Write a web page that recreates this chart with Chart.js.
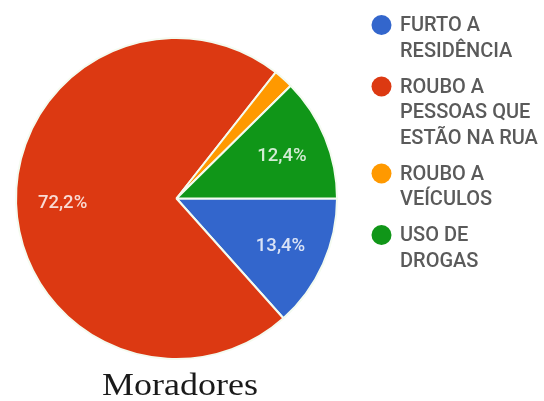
<!DOCTYPE html>
<html lang="pt-BR">
<head>
<meta charset="utf-8">
<title>Moradores</title>
<script src="https://cdn.jsdelivr.net/npm/chart.js@4.4.1/dist/chart.umd.min.js"></script>
<style>
  html, body { margin: 0; padding: 0; background: #fff; }
  #wrap { position: relative; width: 544px; height: 401px; }
</style>
</head>
<body>
<div id="wrap"><canvas id="pieChart" width="544" height="401"></canvas></div>
<script>
// Categorias (cada uma quebrada em linhas para a legenda)
const categorias = [
    ['FURTO A', 'RESIDÊNCIA'],
    ['ROUBO A', 'PESSOAS QUE', 'ESTÃO NA RUA'],
    ['ROUBO A', 'VEÍCULOS'],
    ['USO DE', 'DROGAS']
];
const percentuais = [13.4, 72.2, 2.0, 12.4];
const cores = ['#3366cc', '#dc3912', '#ff9900', '#109618'];
const titulo = 'Moradores';

// Formata 13.4 -> "13,4%"
function formatarPct(v) {
    return v.toFixed(1).replace('.', ',') + '%';
}

// Rótulos de porcentagem dentro das fatias (esconde as muito pequenas)
const rotulosFatias = {
    id: 'rotulosFatias',
    afterDatasetsDraw(chart) {
        const ctx = chart.ctx;
        const meta = chart.getDatasetMeta(0);
        ctx.save();
        ctx.font = '500 18.5px Roboto';
        ctx.fillStyle = 'rgba(255, 255, 255, 0.82)';
        ctx.textAlign = 'center';
        ctx.textBaseline = 'middle';
        meta.data.forEach((arc, i) => {
            const v = percentuais[i];
            if (v < 5) return;
            const ang = (arc.startAngle + arc.endAngle) / 2;
            const d = arc.outerRadius * 0.71;
            ctx.fillText(formatarPct(v), arc.x + Math.cos(ang) * d, arc.y + Math.sin(ang) * d + 1);
        });
        ctx.restore();
    }
};

// Legenda à direita com textos em várias linhas
const legendaLateral = {
    id: 'legendaLateral',
    afterDraw(chart) {
        const ctx = chart.ctx;
        const xBola = 381.5, xTexto = 400;
        const alturaLinha = 25.5, espacoItem = 36;
        let y = 25;
        ctx.save();
        ctx.font = '500 20px Roboto';
        ctx.textBaseline = 'middle';
        categorias.forEach((linhas, i) => {
            ctx.fillStyle = cores[i];
            ctx.beginPath();
            ctx.arc(xBola, y, 10, 0, Math.PI * 2);
            ctx.fill();
            ctx.fillStyle = '#5a5a5a';
            linhas.forEach((linha, j) => {
                ctx.fillText(linha, xTexto, y + j * alturaLinha + 1);
            });
            y += (linhas.length - 1) * alturaLinha + espacoItem;
        });
        ctx.restore();

        // Título embaixo da pizza, esticado até a largura desejada
        ctx.save();
        ctx.font = '32px "Liberation Serif"';
        ctx.fillStyle = '#1a1a1a';
        ctx.textAlign = 'center';
        ctx.textBaseline = 'alphabetic';
        const largura = ctx.measureText(titulo).width;
        ctx.translate(180, 395);
        ctx.scale(156 / largura, 1);
        ctx.fillText(titulo, 0, 0);
        ctx.restore();
    }
};

const ctx = document.getElementById('pieChart').getContext('2d');

new Chart(ctx, {
    type: 'pie',
    data: {
        labels: categorias.map(l => l.join(' ')),
        datasets: [{
            data: percentuais,
            backgroundColor: cores,
            borderColor: '#f4fbf0',
            borderWidth: 2
        }]
    },
    options: {
        responsive: false,
        animation: false,
        rotation: 90, // começa às 3 horas
        layout: {
            padding: { left: 15, right: 206, top: 37, bottom: 41 }
        },
        plugins: {
            legend: { display: false },
            tooltip: { enabled: false },
            title: { display: false }
        }
    },
    plugins: [rotulosFatias, legendaLateral]
});
</script>
</body>
</html>
